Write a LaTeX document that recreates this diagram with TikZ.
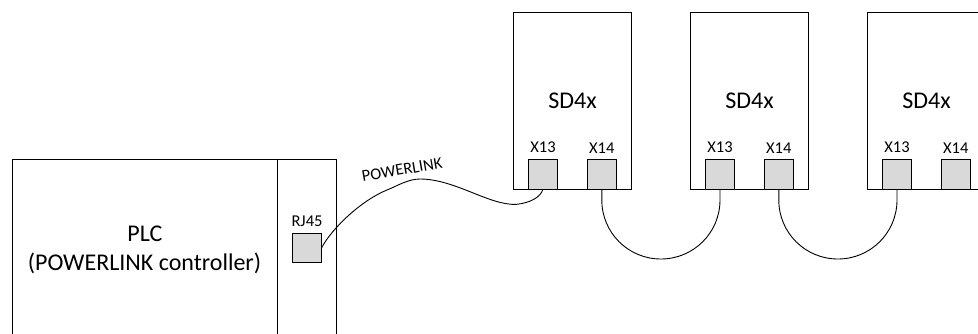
\documentclass[tikz,border=0pt]{standalone}
\usepackage{fontspec}
\setmainfont{Carlito}
\definecolor{portgray}{HTML}{D9D9D9}
\begin{document}
\begin{tikzpicture}[x=1pt,y=-1pt,
  box/.style={draw, line width=0.9pt, inner sep=0pt, outer sep=0pt, anchor=north west},
  port/.style={draw, fill=portgray, line width=0.9pt, minimum width=29.4pt, minimum height=29.3pt, inner sep=0pt, outer sep=0pt, anchor=south},
  lbl/.style={font=\fontsize{16.5}{19}\selectfont, inner sep=0pt, anchor=base},
  big/.style={font=\fontsize{24}{29}\selectfont, inner sep=0pt, anchor=base},
  cable/.style={line width=0.9pt}]
\useasboundingbox (0,0) rectangle (978,333);
% PLC
\node[box, minimum width=265.4pt, minimum height=190pt] (plc) at (12.3,159.7) {};
\node[box, minimum width=58.3pt, minimum height=190pt] (plcside) at (277.7,159.7) {};
\node[big] (plct1) at (145,241.7) {PLC};
\node[big] (plct2) at (144.5,270) {(POWERLINK controller)};
\node[lbl] (rjl) at (307,226) {RJ45};
\node[port] (rj) at (307,262.3) {};
% drives
\foreach \i in {0,1,2}{
  \node[box, minimum width=118.4pt, minimum height=176.3pt] (sd\i) at (513.3+177*\i,12.7) {};
  \node[big] (sdt\i) at (572.5+177*\i,108.7) {SD4x};
  \node[port] (pa\i) at (543+177*\i,189) {};
  \node[port] (pb\i) at (601.8+177*\i,189) {};
  \node[lbl] (pal\i) at (543+177*\i,152.3) {X13};
  \node[lbl] (pbl\i) at (601.8+177*\i,153.5) {X14};
}
% POWERLINK cable
\draw[cable] (rj.east) .. controls (332,228) and (362,200) .. (387,190)
  .. controls (397,186) and (408,179) .. (420,179)
  .. controls (455,179) and (490,206) .. (516.7,204.3)
  .. controls (530,203) and (541,197) .. (pa0.south);
\node[lbl, rotate=9.8] (plk) at (402.9,174.8) {POWERLINK};
% drive-to-drive cables
\foreach \i/\j in {0/1,1/2}{
  \draw[cable] (pb\i.south) -- ++(0,11)
    .. controls ++(0,32.7) and ++(-32.7,0) .. ++(59.1,59)
    .. controls ++(32.7,0) and ++(0,32.7) .. ++(59.1,-59)
    -- (pa\j.south);
}
\end{tikzpicture}
\end{document}
